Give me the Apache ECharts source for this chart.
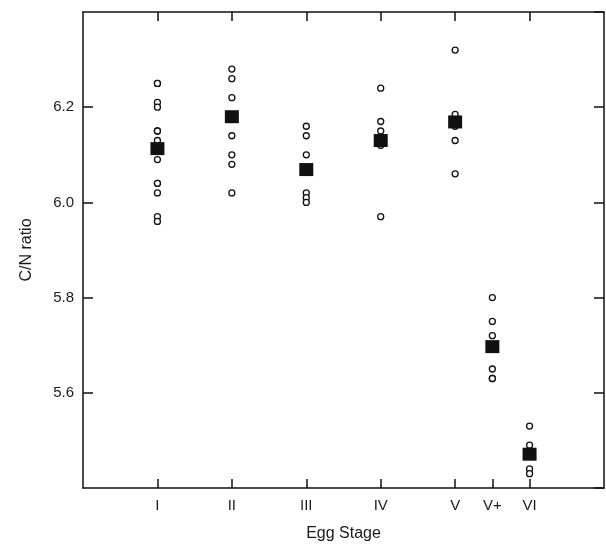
<!DOCTYPE html>
<html>
<head>
<meta charset="utf-8">
<script src="https://cdn.jsdelivr.net/npm/echarts@6/dist/echarts.min.js"></script>
<style>html,body{margin:0;padding:0;background:#fff}#c{width:606px;height:544px}</style>
</head>
<body>
<div id="c"></div>
<script>
// Stage labels and their positions on the x scale
var stageLabels = ["I", "II", "III", "IV", "V", "V+", "VI"];
var stagePositions = [1, 2, 3, 4, 5, 5.5, 6];
var topTickValues = [1, 2, 3, 4, 5, 6];
var yTickLabels = ["5.6", "5.8", "6.0", "6.2"];

// Individual C/N ratio measurements per stage
var stageI = [6.25, 6.25, 6.21, 6.20, 6.15, 6.15, 6.13, 6.09, 6.04, 6.04, 6.02, 5.97, 5.96];
var stageII = [6.28, 6.26, 6.22, 6.14, 6.10, 6.08, 6.02];
var stageIII = [6.16, 6.14, 6.10, 6.02, 6.01, 6.00];
var stageIV = [6.24, 6.17, 6.15, 6.12, 5.97];
var stageV = [6.32, 6.185, 6.16, 6.13, 6.06];
var stageVplus = [5.80, 5.75, 5.72, 5.65, 5.63, 5.63];
var stageVI = [5.53, 5.49, 5.44, 5.43];

// Stage means
var stageMeans = [6.113, 6.18, 6.069, 6.13, 6.169, 5.697, 5.471];

var stageValues = [stageI, stageII, stageIII, stageIV, stageV, stageVplus, stageVI];

var points = [];
stageValues.forEach(function (arr, i) {
  arr.forEach(function (v) { points.push([stagePositions[i], v]); });
});
var means = stageMeans.map(function (v, i) { return [stagePositions[i], v]; });

var font = "Liberation Sans, Arial, Helvetica, sans-serif";
var txt = "#1a1a1a";
var lineStyle = { color: "#111", width: 1.5 };

var chart = echarts.init(document.getElementById("c"), null, { renderer: "canvas" });
chart.setOption({
  animation: false,
  backgroundColor: "#fff",
  grid: { left: 83, top: 12, width: 521, height: 476, containLabel: false, outerBoundsMode: "none" },
  xAxis: [
    {
      type: "value", position: "bottom", min: 0, max: 7,
      name: "Egg Stage", nameLocation: "middle", nameGap: 38,
      nameTextStyle: { fontFamily: font, fontSize: 16, color: txt },
      axisLine: { show: true, onZero: false, lineStyle: lineStyle },
      axisTick: { show: true, inside: true, length: 9, lineStyle: lineStyle, customValues: stagePositions },
      axisLabel: {
        show: true, margin: 10, fontFamily: font, fontSize: 15, color: txt,
        customValues: stagePositions,
        formatter: function (v) {
          var idx = stagePositions.indexOf(v);
          return idx >= 0 ? stageLabels[idx] : "";
        }
      },
      splitLine: { show: false }
    },
    {
      type: "value", position: "top", min: 0, max: 7,
      axisLine: { show: true, onZero: false, lineStyle: lineStyle },
      axisTick: { show: true, inside: true, length: 9, lineStyle: lineStyle, customValues: topTickValues },
      axisLabel: { show: false },
      splitLine: { show: false }
    }
  ],
  yAxis: [
    {
      type: "value", position: "left", min: 5.4, max: 6.4, interval: 0.2,
      name: "C/N ratio", nameLocation: "middle", nameGap: 48,
      nameTextStyle: { fontFamily: font, fontSize: 16, color: txt },
      axisLine: { show: true, onZero: false, lineStyle: lineStyle },
      axisTick: { show: true, inside: true, length: 10, lineStyle: lineStyle },
      axisLabel: {
        show: true, margin: 9, fontFamily: font, fontSize: 15, color: txt,
        showMinLabel: false, showMaxLabel: false,
        formatter: function (v) {
          var s = v.toFixed(1);
          return yTickLabels.indexOf(s) >= 0 ? s : "";
        }
      },
      splitLine: { show: false }
    },
    {
      type: "value", position: "right", min: 5.4, max: 6.4, interval: 0.2,
      axisLine: { show: true, onZero: false, lineStyle: lineStyle },
      axisTick: { show: true, inside: true, length: 10, lineStyle: lineStyle },
      axisLabel: { show: false },
      splitLine: { show: false }
    }
  ],
  series: [
    {
      type: "scatter", xAxisIndex: 0, yAxisIndex: 0, data: points,
      symbol: "circle", symbolSize: 6,
      itemStyle: { color: "#fff", borderColor: "#111", borderWidth: 1.3, opacity: 1 },
      z: 2
    },
    {
      type: "scatter", xAxisIndex: 0, yAxisIndex: 0, data: means,
      symbol: "rect", symbolSize: [14, 13],
      itemStyle: { color: "#111", opacity: 1 },
      z: 3
    }
  ]
});
</script>
</body>
</html>
